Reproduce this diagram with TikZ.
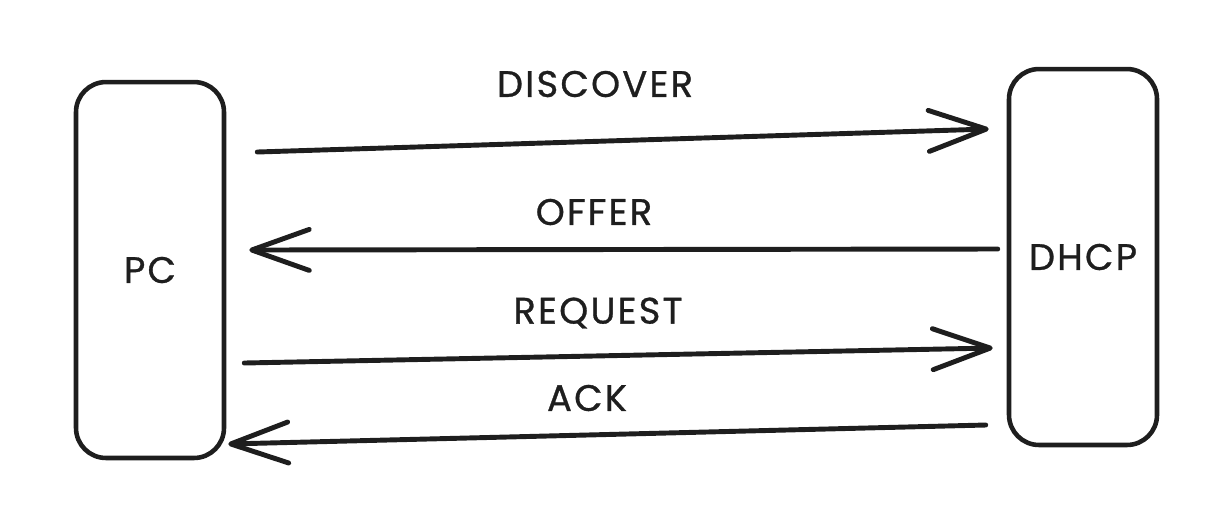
\documentclass[tikz,border=0pt]{standalone}
\usepackage{fontspec}
\setmainfont{Poppins}[LetterSpace=6, FakeBold=0.8]
\usetikzlibrary{arrows.meta,calc}
\definecolor{ink}{HTML}{1E1E1E}
\tikzset{
  host/.style={draw=ink, line width=2.6pt, rounded corners=0.6cm, minimum width=2.96cm, minimum height=7.52cm, text=ink, font=\fontsize{21}{25}\selectfont},
  msg/.style={draw=ink, line width=2.8pt, line cap=round, -{Straight Barb[length=1.15cm, width=0.82cm, round]}},
  lbl/.style={text=ink, font=\fontsize{21}{25}\selectfont}
}
\begin{document}
\begin{tikzpicture}[x=0.02cm, y=-0.02cm]
  \useasboundingbox (0,0) rectangle (1219,529);
  % Hosts
  \node[host] (pc) at (150,270) {PC};
  \node[host] (dhcp) at (1083,257) {DHCP};
  % Labels
  \node[lbl] (discover) at (595,84) {DISCOVER};
  \node[lbl] (offer) at (594,212) {OFFER};
  \node[lbl] (request) at (598,313) {REQUEST};
  \node[lbl] (ack) at (587,398) {ACK};
  % Messages
  \draw[msg] ($(pc.east)+(31,-118)$) -- ($(dhcp.west)+(-18,-128)$);
  \draw[msg] ($(dhcp.west)+(-9,-8)$) -- ($(pc.east)+(23,-20)$);
  \draw[msg] ($(pc.east)+(18,93)$) -- ($(dhcp.west)+(-14,91)$);
  \draw[msg] ($(dhcp.west)+(-21,168)$) -- ($(pc.east)+(2,174)$);
\end{tikzpicture}
\end{document}
